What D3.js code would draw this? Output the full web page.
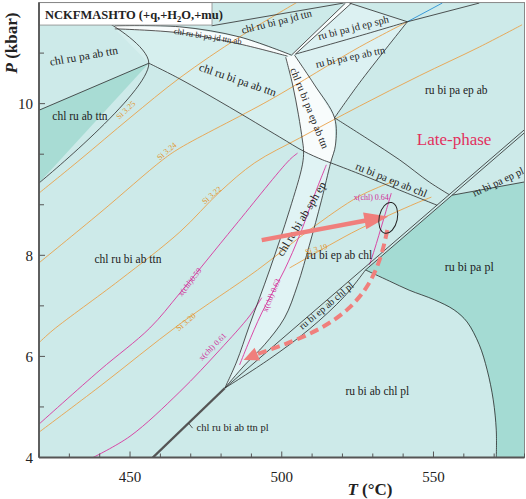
<!DOCTYPE html>
<html>
<head>
<meta charset="utf-8">
<script src="https://cdn.jsdelivr.net/npm/d3@7"></script>
<style>
  body { margin: 0; background: #fff; }
  svg text { font-family: "Liberation Serif", "Times New Roman", serif; }
</style>
</head>
<body>
<script>
// axis ticks (T in degC, P in kbar)
var tempTicks = d3.range(420, 581, 10);
var tempLabels = [450, 500, 550];
var presTicks = [4, 5, 6, 7, 8, 9, 10, 11, 12];
var presLabels = ["4", "", "6", "", "8", "", "", "10", ""];

// field boundaries, [T, P]
var biIn = [[420, 9.43], [456.2, 11.80], [443.4, 12.58]];
var paIn = [[420, 10.87], [456.2, 11.80]];
var paOut = [[456.2, 11.80], [466.4, 11.49], [482.8, 10.93], [499.3, 10.34], [507.2, 10.06], [513.4, 9.89], [516.1, 9.83], [525.6, 9.61], [538.8, 9.29], [551.2, 8.99]];
var sliverUpper = [[445, 12.54], [466.4, 12.52], [486.1, 12.32], [503.2, 11.96]];
var sliverLower = [[445, 12.48], [466.4, 12.40], [486.1, 12.18], [501.9, 11.94]];
var jdTop = [[476.9, 12.54], [520.4, 12.99]];
var topBandA = [[503.2, 11.96], [521, 12.99]];
var topBandB = [[504.5, 11.98], [523, 12.99]];
var wedgeLow = [[504.5, 11.98], [525.6, 12.34], [541.4, 12.62]];
var wedgeUp = [[522.3, 12.99], [541.4, 12.62]];
var topRight = [[541.4, 12.62], [565.1, 12.99]];
var blueLine = [[541.4, 12.62], [552.9, 12.99]];
var epLine = [[541.4, 12.62], [525.6, 11.41], [517.4, 10.72]];
var bandLeftTop = [[501.3, 11.92], [503.6, 11.37], [505.5, 10.78], [506.8, 10.28], [507.2, 10.06]];
var bandLeftLow = [[507.2, 10.06], [506.8, 9.79], [502.6, 8.90], [496.0, 7.71], [489.4, 6.62], [485.1, 5.89], [481.2, 5.37]];
var bandRightTop = [[504.2, 11.96], [510.8, 11.37], [517.4, 10.72], [517.7, 10.18], [516.1, 9.83]];
var bandRightLow = [[516.1, 9.83], [513.1, 9.09], [509.1, 8.20], [505.2, 7.41], [500.9, 6.76], [494.3, 6.23], [487.8, 5.83], [481.2, 5.37]];
var chlIn = [[517.4, 10.72], [528.9, 10.28], [538.8, 9.89], [548.6, 9.45], [555.2, 9.20]];
var chlOutU = [[481.2, 5.37], [579.9, 10.48]];
var chlOutD = [[527.6, 7.71], [579.9, 10.42]];
var plIn = [[481.2, 5.37], [496.0, 5.95], [509.1, 6.54], [520.7, 7.19], [527.6, 7.71]];
var plPaCurve = [[527.6, 7.71], [535.5, 7.49], [542.0, 7.31], [550.3, 7.12], [556.8, 6.92], [561.1, 6.68], [565.1, 6.23], [567.7, 5.73], [569.7, 5.14], [570.7, 4.54], [570.7, 4]];
var paEpLine = [[556.2, 9.19], [579.9, 9.45]];
var ttnPlLine = [[457.5, 4], [481.2, 5.37]];

// isopleths
var si325 = [[420, 9.23], [433.5, 9.89], [450, 10.72], [466.4, 11.51], [486.1, 12.32], [504.9, 13]];
var si324 = [[420, 7.85], [440.1, 8.84], [460.8, 9.89], [466.4, 10.12], [496, 11.07], [525.6, 12.12], [541.4, 12.62]];
var si322 = [[420, 6.27], [424.6, 6.52], [446.6, 7.51], [466.4, 8.46], [479.5, 9.25], [491.1, 9.83], [505.9, 10.32], [525.6, 10.95], [545.3, 11.55], [565.1, 12.12], [579.2, 12.56]];
var si320 = [[420, 4.50], [440.1, 5.41], [466.4, 6.64], [492, 7.71], [509.1, 8.50], [525.6, 9.17], [537.1, 9.47]];
var si319 = [[502.6, 7.75], [515.7, 8.20], [525.6, 8.52], [544.3, 9.03], [549.3, 9.15]];
var xchl059 = [[420, 4.66], [440.1, 5.73], [456.5, 6.56], [466.4, 7.25], [484.5, 8.58], [502.6, 9.89], [505.2, 10.02]];
var xchl061 = [[437.8, 4], [450, 4.42], [466.4, 5.30], [479.6, 6.13], [489.4, 6.80], [493.4, 7.16]];
var xchl063 = [[514.7, 9.79], [511.4, 9.29], [505.9, 8.40], [500.9, 7.71], [493.4, 6.86], [488.8, 6.23], [486.1, 5.83]];
var xchl064 = [[536.1, 9.23], [533.5, 8.70], [530.5, 8.10], [528.9, 7.81]];

// filled fields
var fieldChlRuAbTtn = [[420, 10.87], [456.2, 11.80], [420, 9.43]];
var fieldRuBiPaPl = [[556.2, 9.19], [579.9, 9.45], [579.9, 4]].concat(plPaCurve.slice().reverse()).concat([[556.2, 9.19]]);
var fieldWhiteBand = bandLeftTop.concat([[513.4, 9.89]]).concat(bandRightTop.slice().reverse());
var fieldSphBand = bandLeftLow.concat(bandRightLow.slice().reverse()).concat([[513.4, 9.89]]);
var fieldSliver = sliverUpper.concat(sliverLower.slice().reverse());
var fieldTopBand = [[503.2, 11.96], [521, 12.99], [523, 12.99], [504.5, 11.98]];
var fieldChlBiPa = sliverLower.concat(bandLeftTop.slice(1)).concat(paOut.slice(0, 5).reverse());
var fieldEpTtn = [[504.5, 11.98], [522.3, 12.99], [541.4, 12.62], [525.6, 11.41], [517.4, 10.72], [510.8, 11.37], [504.2, 11.96]];

// the P-T path
var peakPath = [[493.4, 8.30], [535.1, 8.77]];
var retroPath = [[534.8, 8.50], [532.8, 7.95], [528.9, 7.41], [522.3, 6.92], [512.4, 6.52], [500.9, 6.23], [492.1, 6.05], [487.4, 5.93]];
var peakEllipse = { t: 535.1, p: 8.74, dt: 3.0, dp: 0.31 };

// field names
var fieldLabels = [
  ["chl ru pa ab ttn", 434.8, 11.94, -10, 11.5],
  ["chl ru ab ttn", 433.5, 10.74, 0, 11.5],
  ["chl ru bi ab ttn", 449.3, 7.93, 0, 11.5],
  ["chl ru bi pa jd ttn ab", 475.6, 12.33, 9, 8.5],
  ["chl ru bi pa jd ttn", 498.3, 12.62, -14, 10.5],
  ["chl ru bi pa ab ttn", 485.5, 11.47, 19, 11.5],
  ["chl ru bi pa ep ab ttn", 509.1, 10.91, 68, 10.5],
  ["ru bi pa jd ep sph", 523.6, 12.50, -14, 10.5],
  ["ru bi pa ep ab ttn", 522.6, 11.92, -12, 10.5],
  ["ru bi pa ep ab", 557.5, 11.27, 0, 11.5],
  ["ru bi pa ep ab chl", 536.1, 9.49, 22, 11],
  ["ru bi pa ep pl", 571.3, 9.45, -25, 10.5],
  ["chl ru bi ab sph ep", 506.5, 8.72, -59, 11.5],
  ["ru bi ep ab chl", 519, 7.99, 0, 11.5],
  ["ru bi ep ab chl pl", 514.7, 7.00, -40, 10],
  ["ru bi pa pl", 561.8, 7.77, 0, 12],
  ["ru bi ab chl pl", 531.5, 5.30, 0, 11.5],
  ["chl ru bi ab ttn pl", 483.8, 4.60, 0, 10.5]
];
var isoLabels = [
  ["Si 3.25", 448.6, 10.87, -43, "si"],
  ["Si 3.24", 462.1, 10.06, -40, "si"],
  ["Si 3.22", 476.9, 9.19, -40, "si"],
  ["Si 3.20", 468.4, 6.68, -40, "si"],
  ["Si 3.19", 511.4, 8.12, -15, "si"],
  ["x(chl)0.59", 469.7, 7.47, -52, "xc"],
  ["x(chl) 0.61", 477.2, 6.19, -45, "xc"],
  ["x(chl) 0.63", 496.6, 7.21, -67, "xc"],
  ["x(chl) 0.64", 529.5, 9.15, 0, "xc"]
];

var W = 526, H = 499;
var x = d3.scaleLinear().domain([420, 580]).range([39, 524.5]);
var y = d3.scaleLinear().domain([4, 13]).range([457.5, 2.55]);
var line = d3.line().x(function(d){ return x(d[0]); }).y(function(d){ return y(d[1]); });
var smooth = d3.line().x(function(d){ return x(d[0]); }).y(function(d){ return y(d[1]); }).curve(d3.curveCatmullRom.alpha(0.5));

var svg = d3.select("body").append("svg").attr("width", W).attr("height", H);

svg.append("clipPath").attr("id", "plot")
  .append("rect").attr("x", x(420)).attr("y", y(13)).attr("width", x(580) - x(420)).attr("height", y(4) - y(13));

var g = svg.append("g").attr("clip-path", "url(#plot)");

g.append("rect").attr("x", x(420)).attr("y", y(13)).attr("width", x(580) - x(420)).attr("height", y(4) - y(13))
  .attr("fill", "#cdeae9");

function fill(data, color){
  g.append("path").attr("d", line(data) + "Z").attr("fill", color);
}
fill(fieldChlBiPa, "#d6efee");
fill(fieldEpTtn, "#dcf1f2");
fill(fieldChlRuAbTtn, "#a8dcd4");
fill(fieldRuBiPaPl, "#a4dbd3");
fill(fieldSphBand, "#e0f3f4");
fill(fieldWhiteBand, "#f8fcfc");
fill(fieldSliver, "#f8fcfc");
fill(fieldTopBand, "#f8fcfc");

function stroke(data, color, width, gen){
  return g.append("path").attr("d", (gen || line)(data)).attr("fill", "none")
    .attr("stroke", color).attr("stroke-width", width);
}

// isopleths
[si325, si324, si322, si320, si319].forEach(function(d){ stroke(d, "#eaa24a", 0.9, smooth); });
[xchl059, xchl061, xchl063, xchl064].forEach(function(d){ stroke(d, "#d8369e", 0.9, smooth); });
stroke(blueLine, "#3a9ad8", 1);

// boundaries
[biIn, paIn, paOut, sliverUpper, sliverLower, jdTop, topBandA, topBandB, wedgeLow, wedgeUp, topRight,
 epLine, chlIn, chlOutU, chlOutD, plIn, plPaCurve, paEpLine].forEach(function(d){ stroke(d, "#2a2a2a", 0.8, smooth); });
stroke(bandLeftTop.concat(bandLeftLow.slice(1)), "#2a2a2a", 0.8, smooth);
stroke(bandRightTop.concat(bandRightLow.slice(1)), "#2a2a2a", 0.8, smooth);
stroke(ttnPlLine, "#555", 2.4);

// labels
fieldLabels.forEach(function(d){
  g.append("text").attr("transform", "translate(" + x(d[1]) + "," + y(d[2]) + ") rotate(" + d[3] + ")")
    .attr("text-anchor", "middle").attr("dy", "0.32em").attr("font-size", d[4]).attr("fill", "#222").text(d[0]);
});
isoLabels.forEach(function(d){
  g.append("text").attr("transform", "translate(" + x(d[1]) + "," + y(d[2]) + ") rotate(" + d[3] + ")")
    .attr("text-anchor", "middle").attr("dy", "0.32em").attr("font-size", 8)
    .attr("fill", d[4] == "si" ? "#e0952e" : "#d02c98").text(d[0]);
});
// leader tick for the thin ttn pl field
g.append("line").attr("x1", x(483.8) - 44).attr("y1", y(4.60) - 4).attr("x2", x(483.8) - 40).attr("y2", y(4.60) + 1)
  .attr("stroke", "#333").attr("stroke-width", 0.8);

g.append("text").attr("x", x(556.8)).attr("y", y(10.30)).attr("dy", "0.35em").attr("text-anchor", "middle")
  .attr("font-size", 17).attr("fill", "#e2305e").text("Late-phase");

// P-T path
function head(p1, p2, len, wid){
  var dx = p2[0] - p1[0], dy = p2[1] - p1[1], L = Math.hypot(dx, dy);
  var ux = dx / L, uy = dy / L;
  var bx = p2[0] - ux * len, by = p2[1] - uy * len;
  return "M" + p2[0] + "," + p2[1] + "L" + (bx - uy * wid / 2) + "," + (by + ux * wid / 2) +
    "L" + (bx + uy * wid / 2) + "," + (by - ux * wid / 2) + "Z";
}
var arrowColor = "#f07f7c";
var a0 = [x(peakPath[0][0]), y(peakPath[0][1])], a1 = [x(peakPath[1][0]), y(peakPath[1][1])];
var aL = Math.hypot(a1[0] - a0[0], a1[1] - a0[1]);
var aBase = [a1[0] - (a1[0] - a0[0]) / aL * 20, a1[1] - (a1[1] - a0[1]) / aL * 20];
g.append("line").attr("x1", a0[0]).attr("y1", a0[1]).attr("x2", aBase[0]).attr("y2", aBase[1])
  .attr("stroke", arrowColor).attr("stroke-width", 4.5);
g.append("path").attr("d", head(a0, a1, 24, 17)).attr("fill", arrowColor);

var retroShaft = retroPath.slice(0, retroPath.length - 1);
stroke(retroShaft, arrowColor, 4, d3.line().x(function(d){ return x(d[0]); }).y(function(d){ return y(d[1]); }).curve(d3.curveBasis))
  .attr("stroke-dasharray", "9,5");
var r1 = retroPath[retroPath.length - 2], r2 = retroPath[retroPath.length - 1];
g.append("path").attr("d", head([x(r1[0]), y(r1[1])], [x(r2[0]), y(r2[1])], 15, 14)).attr("fill", arrowColor);

g.append("ellipse")
  .attr("transform", "translate(" + x(peakEllipse.t) + "," + y(peakEllipse.p) + ") rotate(12)")
  .attr("rx", x(peakEllipse.t + peakEllipse.dt) - x(peakEllipse.t))
  .attr("ry", y(peakEllipse.p - peakEllipse.dp) - y(peakEllipse.p))
  .attr("fill", "none").attr("stroke", "#222").attr("stroke-width", 1);

// header box
var hdr = svg.append("g");
hdr.append("rect").attr("x", x(420)).attr("y", y(13)).attr("width", 173).attr("height", 22.5)
  .attr("fill", "#fff").attr("stroke", "#888").attr("stroke-width", 0.8);
var ht = hdr.append("text").attr("x", x(420) + 6).attr("y", 19).attr("font-size", 12.5).attr("font-weight", "bold").attr("fill", "#222");
ht.append("tspan").text("NCKFMASHTO (+q,+H");
ht.append("tspan").attr("font-size", 8.5).attr("dy", 2.5).text("2");
ht.append("tspan").attr("dy", -2.5).text("O,+mu)");

// frame and axes
svg.append("rect").attr("x", x(420)).attr("y", y(13)).attr("width", x(580) - x(420)).attr("height", y(4) - y(13))
  .attr("fill", "none").attr("stroke", "#888").attr("stroke-width", 1);
svg.append("line").attr("x1", x(420)).attr("x2", x(420)).attr("y1", y(13)).attr("y2", y(4)).attr("stroke", "#555").attr("stroke-width", 1.8);
svg.append("line").attr("x1", x(420)).attr("x2", x(580)).attr("y1", y(4)).attr("y2", y(4)).attr("stroke", "#555").attr("stroke-width", 1.8);

svg.selectAll(".xt").data(tempTicks).enter().append("line")
  .attr("x1", function(d){ return x(d); }).attr("x2", function(d){ return x(d); })
  .attr("y1", y(4)).attr("y2", function(d){ return y(4) - (tempLabels.indexOf(d) >= 0 ? 6 : 4); })
  .attr("stroke", "#555").attr("stroke-width", 1);
svg.selectAll(".xl").data(tempLabels).enter().append("text")
  .attr("x", function(d){ return x(d); }).attr("y", 482).attr("text-anchor", "middle")
  .attr("font-size", 15).attr("fill", "#222").text(function(d){ return d; });

svg.selectAll(".yt").data(presTicks).enter().append("line")
  .attr("x1", x(420)).attr("x2", function(d, i){ return x(420) + (presLabels[i] ? 6 : 5); })
  .attr("y1", function(d){ return y(d); }).attr("y2", function(d){ return y(d); })
  .attr("stroke", "#555").attr("stroke-width", 1);
svg.selectAll(".yl").data(presTicks).enter().append("text")
  .attr("x", 33).attr("y", function(d){ return y(d); }).attr("dy", "0.35em").attr("text-anchor", "end")
  .attr("font-size", 15).attr("fill", "#222").text(function(d, i){ return presLabels[i]; });

var xt = svg.append("text").attr("x", 370).attr("y", 495).attr("text-anchor", "middle")
  .attr("font-size", 17).attr("font-weight", "bold").attr("fill", "#222");
xt.append("tspan").attr("font-style", "italic").text("T");
xt.append("tspan").text(" (°C)");

var yt = svg.append("text").attr("transform", "translate(17,43) rotate(-90)").attr("text-anchor", "middle")
  .attr("font-size", 17).attr("font-weight", "bold").attr("fill", "#222");
yt.append("tspan").attr("font-style", "italic").text("P");
yt.append("tspan").text(" (kbar)");
</script>
</body>
</html>
